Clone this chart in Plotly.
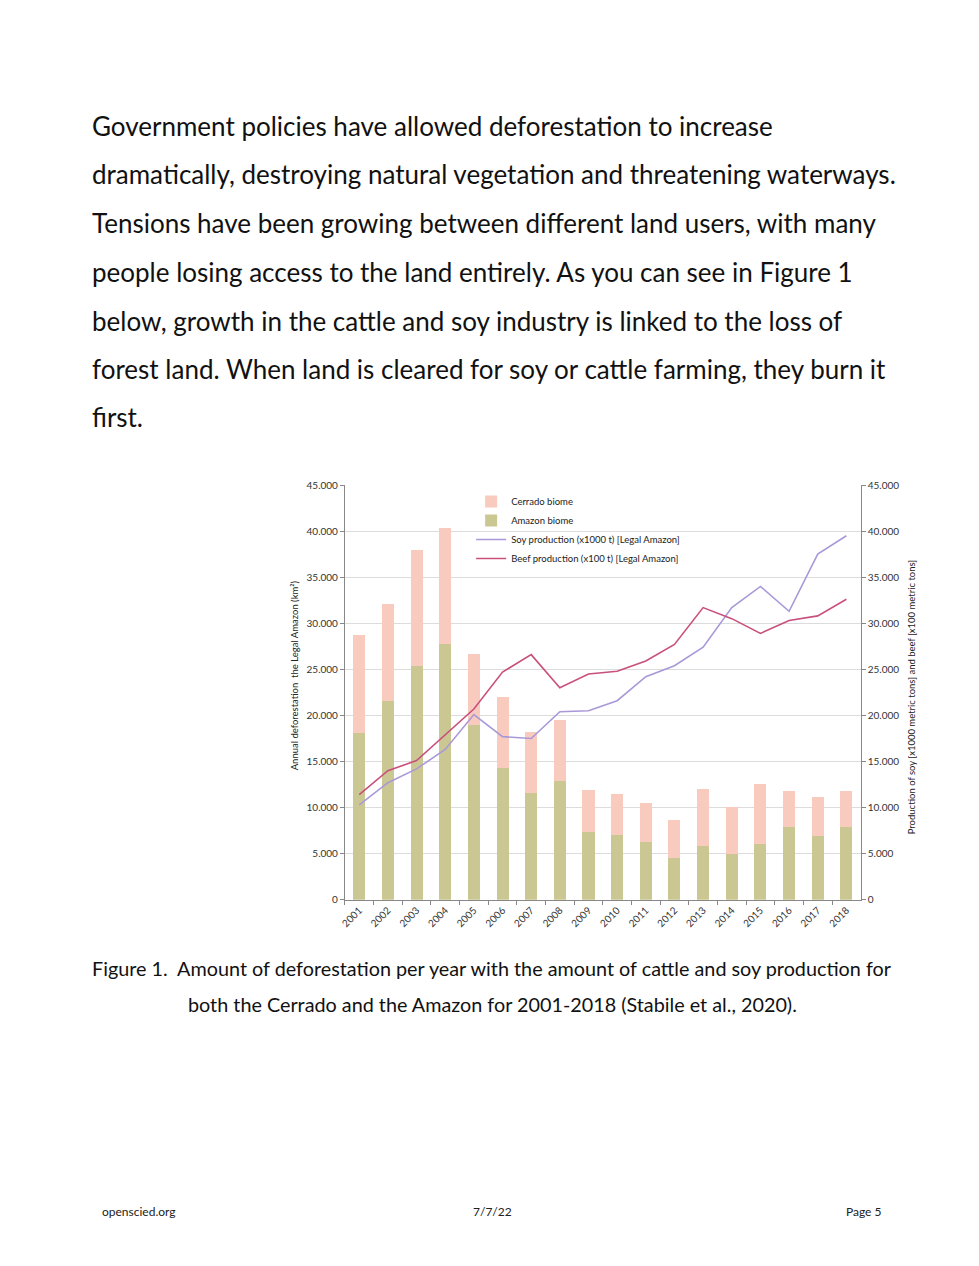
import plotly.graph_objects as go

years = [str(y) for y in range(2001, 2019)]
amazon = [18100, 21600, 25400, 27700, 19000, 14300, 11600, 12900, 7400, 7000, 6300, 4500, 5800, 5000, 6100, 7900, 6900, 7900]
cerrado = [10600, 10500, 12500, 12600, 7700, 7700, 6600, 6600, 4500, 4500, 4200, 4200, 6200, 5100, 6500, 3900, 4200, 3900]
soy = [10300, 12700, 14200, 16300, 20100, 17700, 17500, 20400, 20500, 21600, 24200, 25400, 27400, 31700, 34000, 31300, 37500, 39500]
beef = [11400, 14000, 15100, 17900, 20700, 24700, 26600, 23000, 24500, 24800, 25900, 27700, 31700, 30500, 28900, 30300, 30800, 32600]
yticks = [0, 5000, 10000, 15000, 20000, 25000, 30000, 35000, 40000, 45000]

paragraph = [
    "Government policies have allowed deforestation to increase",
    "dramatically, destroying natural vegetation and threatening waterways.",
    "Tensions have been growing between different land users, with many",
    "people losing access to the land entirely. As you can see in Figure 1",
    "below, growth in the cattle and soy industry is linked to the loss of",
    "forest land. When land is cleared for soy or cattle farming, they burn it",
    "first.",
]
caption = [
    "Figure 1.  Amount of deforestation per year with the amount of cattle and soy production for",
    "both the Cerrado and the Amazon for 2001-2018 (Stabile et al., 2020).",
]

W, H = 979, 1266
def px(x): return x / W
def py(y): return 1 - y / H

fig = go.Figure()
fig.add_trace(go.Bar(x=years, y=amazon, name="Amazon biome", marker_color="#cbc792",
                     marker_line_width=0, legendrank=2))
fig.add_trace(go.Bar(x=years, y=cerrado, name="Cerrado biome", marker_color="#f9cbbf",
                     marker_line_width=0, legendrank=1))
fig.add_trace(go.Scatter(x=years, y=soy, name="Soy production (x1000 t) [Legal Amazon]",
                         mode="lines", line=dict(color="#a999d8", width=1.6), yaxis="y2", legendrank=3))
fig.add_trace(go.Scatter(x=years, y=beef, name="Beef production (x100 t) [Legal Amazon]",
                         mode="lines", line=dict(color="#c9507c", width=1.6), yaxis="y2", legendrank=4))

tickfont = dict(family="Lato, Open Sans, sans-serif", size=10, color="#333333")
fig.update_layout(
    autosize=True, margin=dict(l=0, r=0, t=0, b=0),
    paper_bgcolor="white", plot_bgcolor="white",
    barmode="stack", bargap=0.58, separators=",.",
    showlegend=True,
    legend=dict(x=px(468), y=py(485), xanchor="left", yanchor="top",
                font=dict(family="Lato, Open Sans, sans-serif", size=9.5, color="#222"),
                bgcolor="rgba(0,0,0,0)", tracegroupgap=0, traceorder="normal",
                itemwidth=30),
    xaxis=dict(domain=[px(341), px(860)], type="category", tickangle=-45,
               tickfont=tickfont, ticks="outside", ticklen=4, tickcolor="#888",
               tickson="boundaries", showline=True, linecolor="#888", linewidth=1,
               showgrid=False, anchor="y"),
    yaxis=dict(domain=[py(902), py(483)], range=[0, 45000], tickvals=yticks,
               tickformat=",d", tickfont=tickfont, ticks="outside", ticklen=4, tickcolor="#888",
               showline=True, linecolor="#888", linewidth=1,
               showgrid=True, gridcolor="#dcdcdc", gridwidth=1, zeroline=False),
    yaxis2=dict(overlaying="y", side="right", range=[0, 45000], tickvals=yticks,
                tickformat=",d", tickfont=tickfont, ticks="outside", ticklen=4, tickcolor="#888",
                showline=True, linecolor="#888", linewidth=1, showgrid=False, zeroline=False,
                anchor="x"),
)

ann = []
line_y = [120, 169, 218, 268, 317, 366, 414]
for t, yy in zip(paragraph, line_y):
    ann.append(dict(text=t, x=px(85), y=py(yy), xref="paper", yref="paper",
                    xanchor="left", yanchor="middle", showarrow=False,
                    font=dict(family="Lato, sans-serif", size=26, color="#111")))
for t, yy in zip(caption, [971, 1007]):
    ann.append(dict(text=t, x=px(489), y=py(yy), xref="paper", yref="paper",
                    xanchor="center", yanchor="middle", showarrow=False,
                    font=dict(family="Lato, sans-serif", size=19.8, color="#111")))
ann.append(dict(text="Annual deforestation  the Legal Amazon (km²)", x=px(290), y=py(675),
                xref="paper", yref="paper", textangle=-90, showarrow=False,
                xanchor="center", yanchor="middle",
                font=dict(family="Lato, Open Sans, sans-serif", size=9.5, color="#222")))
ann.append(dict(text="Production of soy [x1000 metric tons] and beef [x100 metric tons]",
                x=px(911), y=py(697), xref="paper", yref="paper", textangle=-90, showarrow=False,
                xanchor="center", yanchor="middle",
                font=dict(family="Lato, Open Sans, sans-serif", size=9.5, color="#222")))
foot = dict(family="Liberation Sans Narrow, Lato, sans-serif", size=12, color="#222")
ann.append(dict(text="openscied.org", x=px(95), y=py(1217), xref="paper", yref="paper",
                xanchor="left", yanchor="middle", showarrow=False, font=foot))
ann.append(dict(text="7/7/22", x=px(489), y=py(1217), xref="paper", yref="paper",
                xanchor="center", yanchor="middle", showarrow=False, font=foot))
ann.append(dict(text="Page 5", x=px(883), y=py(1217), xref="paper", yref="paper",
                xanchor="right", yanchor="middle", showarrow=False, font=foot))
fig.update_layout(annotations=ann)

fig.write_html(
    "out.html",
    config={"displayModeBar": False, "responsive": True},
    default_width="100vw", default_height="100vh",
    post_script=(
        "document.documentElement.style.margin='0';"
        "document.documentElement.style.overflow='hidden';"
        "document.body.style.margin='0';document.body.style.padding='0';"
        "document.body.style.overflow='hidden';"
        "Plotly.Plots.resize(document.getElementById('{plot_id}'));"
    ),
)
